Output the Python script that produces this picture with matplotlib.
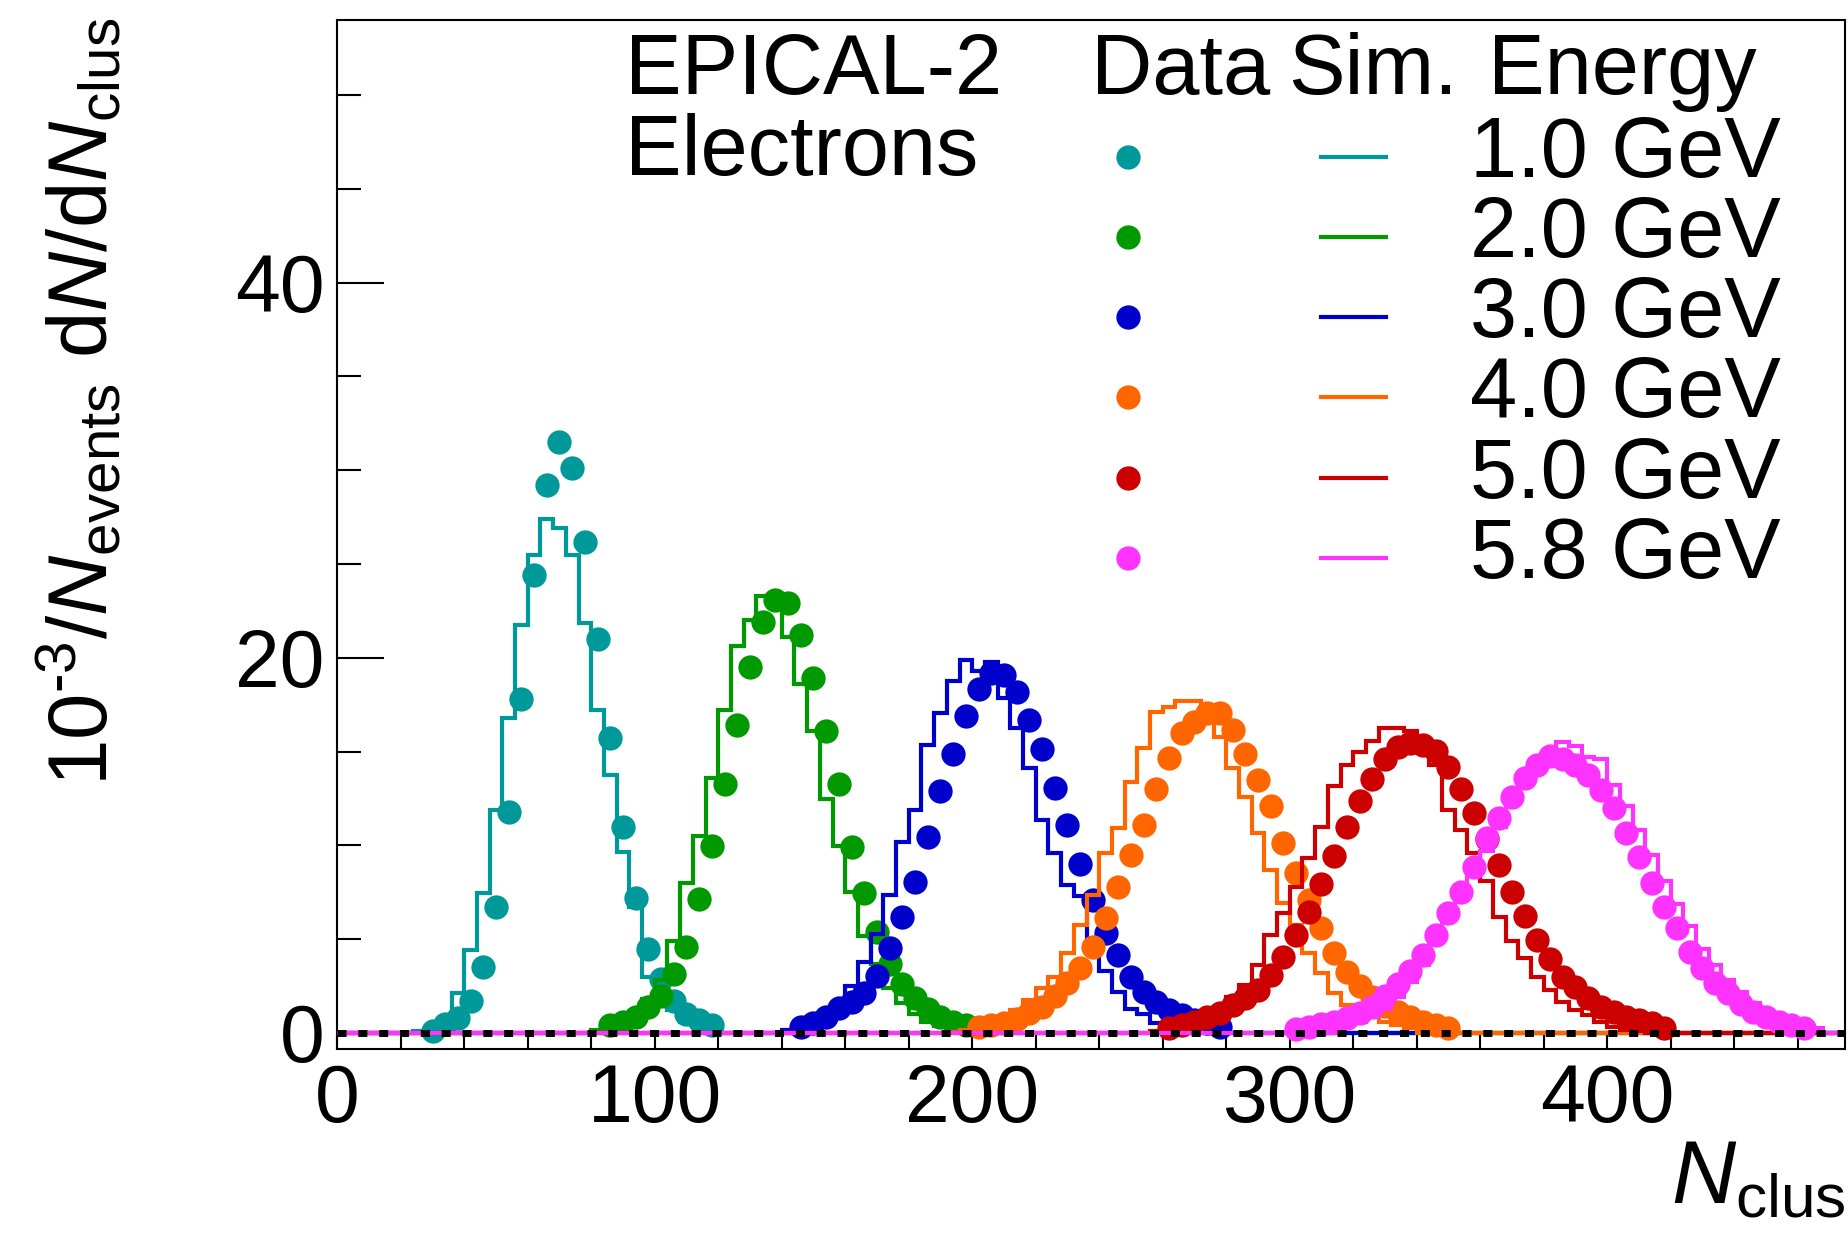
import numpy as np
import matplotlib.pyplot as plt
from matplotlib.ticker import MultipleLocator

plt.rcParams['font.family'] = ['Liberation Sans', 'DejaVu Sans']
plt.rcParams['mathtext.fontset'] = 'custom'
plt.rcParams['mathtext.rm'] = 'Liberation Sans'
plt.rcParams['mathtext.it'] = 'Liberation Sans:italic'

# binning of N_clus (bin width 4, centres at 4k+2)
BIN = 4
EDGES = np.arange(0, 480 + BIN, BIN)

energies = ['1.0 GeV', '2.0 GeV', '3.0 GeV', '4.0 GeV', '5.0 GeV', '5.8 GeV']
colors = ['#009999', '#009900', '#0000cc', '#ff6600', '#cc0000', '#ff33ff']

# data points: first bin centre + values (10^-3 / N_events dN/dN_clus)
data_first = [30, 86, 146, 202, 262, 302]
data_1gev = [0.1, 0.5, 0.8, 1.7, 3.5, 6.7, 11.8, 17.8, 24.4, 29.2, 31.5, 30.1, 26.2,
             21.0, 15.7, 11.0, 7.2, 4.5, 2.85, 1.7, 1.0, 0.7, 0.4]
data_2gev = [0.43, 0.6, 0.87, 1.4, 1.97, 3.15, 4.6, 7.13, 9.94, 13.28, 16.43, 19.5,
             21.9, 23.1, 22.9, 21.2, 18.9, 16.1, 13.28, 9.9, 7.45, 5.4, 3.68, 2.6,
             1.85, 1.26, 0.87, 0.6, 0.43]
data_3gev = [0.34, 0.52, 0.87, 1.32, 1.67, 2.12, 3.04, 4.52, 6.17, 8.07, 10.44, 12.92,
             14.88, 16.9, 18.33, 19.2, 19.1, 18.2, 16.7, 15.15, 13.05, 11.06, 9.0, 7.09,
             5.35, 4.16, 3.0, 2.2, 1.67, 1.23, 0.96, 0.69, 0.52, 0.34]
data_4gev = [0.3, 0.43, 0.55, 0.73, 1.05, 1.4, 1.97, 2.65, 3.45, 4.6, 6.15, 7.77, 9.49,
             11.09, 13.0, 14.65, 15.98, 16.6, 17.08, 17.08, 16.16, 14.88, 13.46, 12.1,
             10.1, 8.5, 7.09, 5.58, 4.28, 3.27, 2.5, 1.9, 1.45, 1.14, 0.87, 0.6, 0.43, 0.25]
data_5gev = [0.25, 0.43, 0.6, 0.84, 1.08, 1.49, 1.85, 2.29, 3.09, 4.07, 5.23, 6.47, 7.95,
             9.44, 11.0, 12.34, 13.53, 14.6, 15.27, 15.47, 15.36, 15.05, 14.2, 13.0,
             11.75, 10.32, 8.96, 7.54, 6.25, 4.96, 3.93, 3.0, 2.44, 1.85, 1.4, 1.14,
             0.87, 0.69, 0.52, 0.25]
data_58gev = [0.2, 0.3, 0.45, 0.6, 0.8, 1.05, 1.4, 1.97, 2.6, 3.3, 4.16, 5.23, 6.38,
              7.54, 8.87, 10.38, 11.45, 12.6, 13.58, 14.29, 14.77, 14.6, 14.29, 13.76,
              12.96, 11.98, 10.65, 9.4, 7.98, 6.74, 5.58, 4.34, 3.45, 2.68, 2.12, 1.55,
              1.14, 0.84, 0.6, 0.43, 0.25]

# simulation histograms: first bin centre + contents
sim_first = [26, 82, 142, 194, 258, 318]
sim_1gev = [0.1, 0.3, 0.8, 2.15, 4.43, 7.45, 11.86, 16.8, 21.76, 25.5, 27.4, 26.9, 25.5,
            21.85, 17.2, 13.76, 9.65, 6.7, 3.0, 2.0, 1.2, 0.6, 0.3, 0.15]
sim_2gev = [0.15, 0.3, 0.55, 1.0, 1.8, 2.8, 4.9, 7.98, 10.5, 13.6, 17.2, 20.65, 22.0,
            23.3, 23.1, 21.1, 18.6, 16.1, 12.46, 9.94, 7.54, 5.17, 3.7, 2.4, 1.58, 1.0,
            0.6, 0.35, 0.2, 0.1]
sim_3gev = [0.15, 0.3, 0.55, 0.95, 1.6, 2.5, 3.8, 5.3, 7.36, 10.2, 11.9, 15.36, 17.05,
            18.74, 19.9, 19.27, 19.8, 17.85, 16.25, 14.1, 11.36, 9.58, 7.9, 7.3, 5.0,
            3.3, 2.2, 1.3, 1.0, 0.55, 0.3, 0.15, 0.08]
sim_4gev = [0.05, 0.15, 0.3, 0.5, 0.8, 1.2, 1.76, 2.38, 3.0, 4.25, 5.76, 7.36, 9.58, 10.9,
            13.4, 15.18, 17.1, 17.4, 17.7, 17.7, 17.5, 15.8, 14.1, 12.6, 10.65, 8.7,
            6.92, 5.76, 4.25, 3.18, 2.12, 1.49, 1.23, 0.87, 0.6, 0.4, 0.25]
sim_5gev = [0.1, 0.2, 0.35, 0.6, 0.9, 1.3, 1.9, 2.56, 3.63, 5.23, 6.38, 7.8, 9.32, 11.0,
            13.14, 14.3, 15.0, 15.54, 16.25, 16.25, 16.1, 15.4, 14.3, 11.9, 10.8, 9.6,
            8.1, 6.2, 4.9, 4.0, 3.0, 2.29, 1.67, 1.23, 0.96, 0.6, 0.3, 0.15, 0.08]
sim_58gev = [0.4, 0.6, 0.9, 1.3, 1.9, 2.7, 3.6, 4.8, 6.3, 7.6, 8.4, 9.7, 11.0, 12.2, 13.5,
             14.4, 15.0, 15.5, 15.3, 14.7, 14.6, 13.2, 12.1, 10.8, 9.5, 8.1, 6.9, 5.7,
             4.5, 3.6, 2.8, 2.2, 1.6, 1.2, 0.85, 0.6, 0.4, 0.25]

data_sets = [data_1gev, data_2gev, data_3gev, data_4gev, data_5gev, data_58gev]
sim_sets = [sim_1gev, sim_2gev, sim_3gev, sim_4gev, sim_5gev, sim_58gev]


def full_hist(first, vals):
    # spread the non-empty bins over the whole N_clus range
    h = np.zeros(len(EDGES) - 1)
    i0 = (first - BIN // 2) // BIN
    h[i0:i0 + len(vals)] = vals
    return h


fig = plt.figure(figsize=(18.49, 12.39), dpi=100)
ax = fig.add_axes([0.1824, 0.153, 0.8156, 0.8308])

for k in range(6):
    c = colors[k]
    ax.stairs(full_hist(sim_first[k], sim_sets[k]), EDGES, color=c, lw=3.0,
              baseline=None, zorder=2 + 2 * k)
    xd = data_first[k] + BIN * np.arange(len(data_sets[k]))
    ax.plot(xd, data_sets[k], 'o', ms=17.5, color=c, mew=0, zorder=3 + 2 * k)

# dashed line at zero
ax.axhline(0, color='black', lw=5.0, ls=(0, (1.3, 1.7)), zorder=30)

ax.set_xlim(0, 475)
ax.set_ylim(-0.88, 54.0)
ax.xaxis.set_major_locator(MultipleLocator(100))
ax.xaxis.set_minor_locator(MultipleLocator(20))
ax.yaxis.set_major_locator(MultipleLocator(20))
ax.yaxis.set_minor_locator(MultipleLocator(5))
ax.tick_params(axis='x', which='both', direction='in', length=10, width=1.5,
               labelsize=58, pad=10, top=False)
ax.tick_params(axis='y', which='major', direction='in', length=34, width=1.5,
               labelsize=58, pad=9, right=False)
ax.tick_params(axis='y', which='minor', direction='in', length=17, width=1.5, right=False)
for s in ax.spines.values():
    s.set_linewidth(1.5)

# axis titles
fig.text(0.043, 0.9857,
         '$10^{\u2010\\mathrm{3}}/N_{\\mathrm{events}}\\ \\mathrm{d}N/\\mathrm{d}N_{\\mathrm{clus}}$',
         rotation=90, ha='center', va='top', fontsize=60)
fig.text(0.998, 0.013, r'$N_{\mathrm{clus}}$', ha='right', va='bottom', fontsize=64)

# header and legend
fs = 61
fig.text(0.338, 0.924, 'EPICAL-2', fontsize=fs, va='baseline')
fig.text(0.338, 0.859, 'Electrons', fontsize=fs, va='baseline')
fig.text(0.590, 0.924, 'Data', fontsize=fs, va='baseline')
fig.text(0.6964, 0.924, 'Sim.', fontsize=fs, va='baseline')
fig.text(0.8048, 0.924, 'Energy', fontsize=fs, va='baseline')

row_step = 0.0647
for k in range(6):
    ym = 0.8734 - k * row_step
    ax.plot([0.6103], [ym], 'o', ms=17.5, color=colors[k], mew=0,
            transform=fig.transFigure, clip_on=False)
    ax.plot([0.7143, 0.7494], [ym, ym], color=colors[k], lw=3.0,
            transform=fig.transFigure, clip_on=False)
    fig.text(0.963, 0.8572 - k * row_step, energies[k], fontsize=fs,
             ha='right', va='baseline')

fig.savefig('out.png', dpi=100)
